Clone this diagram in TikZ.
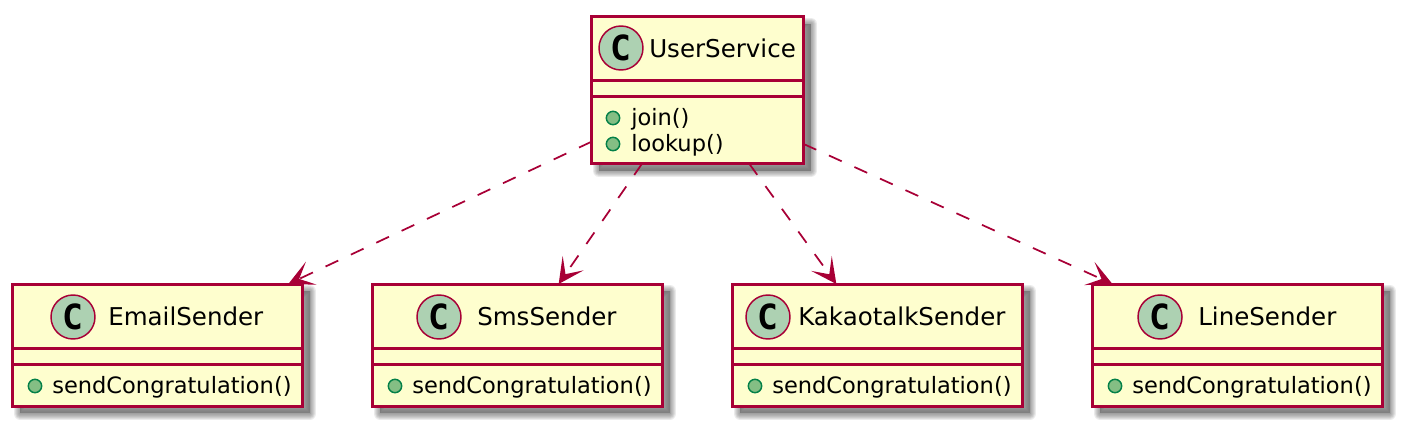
\documentclass[tikz,border=0pt]{standalone}
\usepackage{fontspec}
\setmainfont{DejaVu Sans}
\newfontfamily\glyphfont{DejaVu Sans Mono Bold}
\usetikzlibrary{arrows.meta}
\definecolor{umlred}{HTML}{A80036}
\definecolor{umlfill}{HTML}{FEFECE}
\definecolor{umlspot}{HTML}{ADD1B2}
\definecolor{umldotfill}{HTML}{84BE84}
\definecolor{umldotline}{HTML}{038048}
\tikzset{
  softshadow/.style={preaction={draw=black!60,fill=black!60,opacity=0.13,line width=#1,line join=round,transform canvas={xshift=5.5pt,yshift=-5.5pt}}},
  classbox/.style={rectangle,draw=umlred,fill=umlfill,line width=2.25pt,inner sep=0pt,outer sep=0pt,anchor=north west,
    softshadow=0.5pt,softshadow=2pt,softshadow=3.5pt,softshadow=5pt,softshadow=6.5pt,softshadow=8pt,softshadow=9.5pt},
  sender/.style={classbox,minimum width=217.5pt,minimum height=91.5pt},
  spot/.style={circle,draw=umlred,fill=umlspot,line width=1.1pt,minimum size=33pt,inner sep=0pt,font=\glyphfont\fontsize{26}{26}\selectfont},
  classname/.style={anchor=base west,inner sep=0pt,font=\fontsize{18.4}{20}\selectfont},
  member/.style={anchor=base west,inner sep=0pt,font=\fontsize{16.9}{20}\selectfont},
  dot/.style={circle,draw=umldotline,fill=umldotfill,line width=1.1pt,minimum size=10pt,inner sep=0pt},
  divider/.style={draw=umlred,line width=2.25pt},
  depends/.style={draw=umlred,line width=1.3pt,dash pattern=on 10.5pt off 10.5pt,-{Stealth[length=19pt,width=19pt,inset=10pt]}}
}
\begin{document}
\begin{tikzpicture}[x=0.75pt,y=-0.75pt]
        \useasboundingbox (0,0) rectangle (1402,425);
        \node [classbox,minimum width=158.8pt,minimum height=110.2pt] (UserService) at (591.7,16.5) {};
        \node [sender] (EmailSender) at (12.5,284) {};
        \node [sender] (SmsSender) at (372.5,284) {};
        \node [sender] (KakaotalkSender) at (732.5,284) {};
        \node [sender] (LineSender) at (1092.5,284) {};
        \draw [divider] (UserService.west |- 0,80) -- (UserService.east |- 0,80);
        \draw [divider] (UserService.west |- 0,96) -- (UserService.east |- 0,96);
        \draw [divider] (EmailSender.west |- 0,348) -- (EmailSender.east |- 0,348);
        \draw [divider] (EmailSender.west |- 0,364) -- (EmailSender.east |- 0,364);
        \draw [divider] (SmsSender.west |- 0,348) -- (SmsSender.east |- 0,348);
        \draw [divider] (SmsSender.west |- 0,364) -- (SmsSender.east |- 0,364);
        \draw [divider] (KakaotalkSender.west |- 0,348) -- (KakaotalkSender.east |- 0,348);
        \draw [divider] (KakaotalkSender.west |- 0,364) -- (KakaotalkSender.east |- 0,364);
        \draw [divider] (LineSender.west |- 0,348) -- (LineSender.east |- 0,348);
        \draw [divider] (LineSender.west |- 0,364) -- (LineSender.east |- 0,364);
        \node [spot] (userspot) at (621,48) {C};
        \node [spot] (emailspot) at (73,317) {C};
        \node [spot] (smsspot) at (439,317) {C};
        \node [spot] (kakaospot) at (768,317) {C};
        \node [spot] (linespot) at (1160,317) {C};
        \node [classname] (username) at (649,57) {UserService};
        \node [classname] (emailname) at (108,325) {EmailSender};
        \node [classname] (smsname) at (477,325) {SmsSender};
        \node [classname] (kakaoname) at (798,325) {KakaotalkSender};
        \node [classname] (linename) at (1198,325) {LineSender};
        \node [dot] (joindot) at (613,118) {};
        \node [dot] (lookupdot) at (613,144) {};
        \node [dot] (emaildot) at (35,386) {};
        \node [dot] (smsdot) at (395,386) {};
        \node [dot] (kakaodot) at (755,386) {};
        \node [dot] (linedot) at (1115,386) {};
        \node [member] (join) at (631,125) {join()};
        \node [member] (lookup) at (631,151) {lookup()};
        \node [member] (emailsend) at (52,393) {sendCongratulation()};
        \node [member] (smssend) at (412,393) {sendCongratulation()};
        \node [member] (kakaosend) at (772,393) {sendCongratulation()};
        \node [member] (linesend) at (1132,393) {sendCongratulation()};
        \draw [depends] (UserService.206.8) -- (EmailSender.25.7);
        \draw [depends] (UserService.233.7) -- (SmsSender.56.4);
        \draw [depends] (UserService.305.8) -- (KakaotalkSender.124.9);
        \draw [depends] (UserService.333.2) -- (LineSender.154.6);
\end{tikzpicture}
\end{document}
